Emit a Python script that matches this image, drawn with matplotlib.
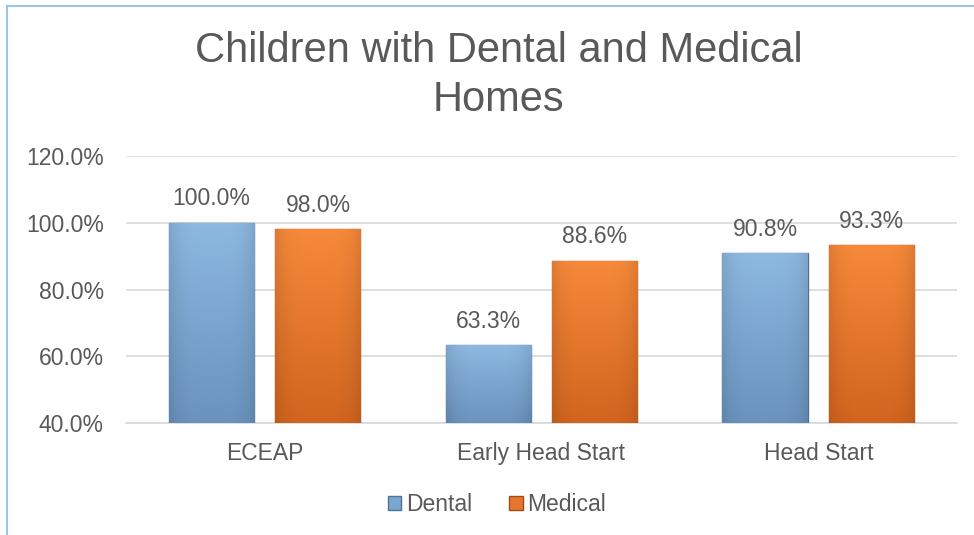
import matplotlib
matplotlib.use("Agg")
import matplotlib.pyplot as plt
import numpy as np
from matplotlib.patches import Patch
from matplotlib.lines import Line2D

categories = ["ECEAP", "Early Head Start", "Head Start"]
dental = [100.0, 63.3, 90.8]
medical = [98.0, 88.6, 93.3]
series_names = ["Dental", "Medical"]
yticks = [40, 60, 80, 100, 120]

plt.rcParams['font.family'] = ['Liberation Sans', 'DejaVu Sans']
text_color = "#595959"

fig = plt.figure(figsize=(9.74, 5.35), dpi=100)
ax = fig.add_axes([0.1294, 0.2093, 0.8531, 0.4991])

x = np.arange(len(categories))
w = 0.307
off = 0.193

styles = [
    dict(top="#8DB8E0", bot="#6A93BE", edge="#4F7394"),
    dict(top="#F6893A", bot="#D2651F", edge="#A14C15"),
]

ax.set_xlim(-0.5, 2.5)
ax.set_ylim(40, 120)

for vals, sgn, st, name in [(dental, -1, styles[0], series_names[0]), (medical, 1, styles[1], series_names[1])]:
    bars = ax.bar(x + sgn * off, np.array(vals) - 40, width=w, bottom=40,
                  color=st["bot"], edgecolor=st["edge"], linewidth=1.0, zorder=3, label=name)
    for b, v in zip(bars, vals):
        x0, y0 = b.get_x(), b.get_y()
        bw, bh = b.get_width(), b.get_height()
        grad = np.linspace(0, 1, 64).reshape(-1, 1)
        c1 = np.array(matplotlib.colors.to_rgb(st["top"]))
        c2 = np.array(matplotlib.colors.to_rgb(st["bot"]))
        img = c2[None, None, :] * (1 - grad[:, :, None]) + c1[None, None, :] * grad[:, :, None]
        hx = np.linspace(0, 1, 64)
        shade = 1 - 0.10 * (np.abs(hx - 0.5) * 2) ** 4
        img = img * shade[None, :, None]
        im = ax.imshow(np.clip(img, 0, 1), extent=[x0, x0 + bw, y0, y0 + bh],
                       origin="lower", aspect="auto", zorder=3.5)
        im.set_clip_path(b)
        ax.annotate(f"{v:.1f}%", (x0 + bw / 2, v), xytext=(0, 9), textcoords="offset points",
                    ha="center", va="bottom", fontsize=16.5, color=text_color)

ax.set_yticks(yticks)
ax.set_yticklabels([f"{t:.1f}%" for t in yticks])
ax.set_xticks(x)
ax.set_xticklabels(categories)
ax.tick_params(axis="both", length=0, labelsize=16.5, labelcolor=text_color)
ax.tick_params(axis="x", pad=14)
ax.tick_params(axis="y", pad=16)
ax.grid(axis="y", color="#D9D9D9", linewidth=1.2, zorder=0)
ax.set_axisbelow(True)
for s in ["top", "right", "left"]:
    ax.spines[s].set_visible(False)
ax.spines["bottom"].set_color("#D9D9D9")
ax.spines["bottom"].set_linewidth(1.2)

fig.text(0.512, 0.859, "Children with Dental and Medical\nHomes", ha="center", va="center",
         fontsize=30, color=text_color, linespacing=1.3)

handles = [Patch(facecolor="#7AA6D2", edgecolor="#4F7394"),
           Patch(facecolor="#E67530", edgecolor="#A14C15")]
fig.legend(handles, series_names, loc="center", bbox_to_anchor=(0.51, 0.057), ncol=2,
           frameon=False, fontsize=16.5, labelcolor=text_color, handlelength=0.6, handleheight=0.6,
           handletextpad=0.2, columnspacing=1.6)

# chart border (left and top)
fig.add_artist(Line2D([0.0067, 0.0067], [0, 0.989], color="#9DC3E6", lw=1.5, transform=fig.transFigure))
fig.add_artist(Line2D([0.0067, 1.0], [0.989, 0.989], color="#9DC3E6", lw=1.5, transform=fig.transFigure))

fig.savefig("out.png", dpi=100)
